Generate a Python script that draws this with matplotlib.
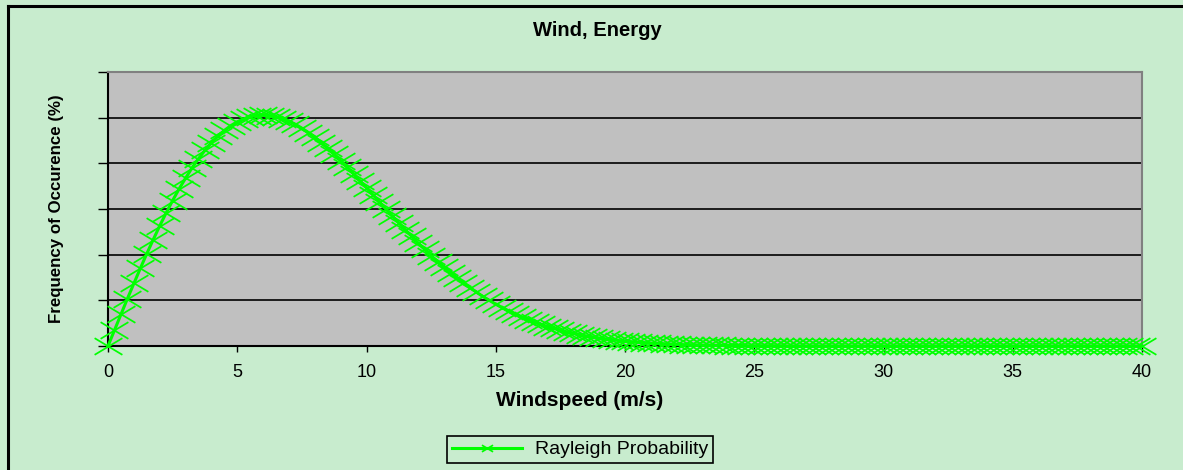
import numpy as np
import matplotlib.pyplot as plt
from matplotlib.lines import Line2D
from matplotlib.path import Path

# windspeed grid (m/s), one point every 0.25
speeds = np.arange(0, 40.25, 0.25)

# frequency of occurence (%)
freq = [
    0.00, 0.69, 1.38, 2.07, 2.74, 3.40, 4.04, 4.66,
    5.26, 5.83, 6.37, 6.88, 7.35, 7.80, 8.20, 8.57,
    8.90, 9.19, 9.44, 9.65, 9.82, 9.95, 10.04, 10.09,
    10.11, 10.09, 10.04, 9.96, 9.85, 9.71, 9.54, 9.35,
    9.14, 8.90, 8.66, 8.39, 8.12, 7.83, 7.53, 7.23,
    6.93, 6.62, 6.31, 6.00, 5.69, 5.39, 5.09, 4.80,
    4.51, 4.23, 3.96, 3.70, 3.45, 3.21, 2.98, 2.77,
    2.56, 2.36, 2.17, 2.00, 1.83, 1.68, 1.53, 1.40,
    1.27, 1.15, 1.04, 0.95, 0.85, 0.77, 0.69, 0.62,
    0.56, 0.50, 0.44, 0.40, 0.35, 0.31, 0.28, 0.24,
    0.21, 0.19, 0.17, 0.15, 0.13, 0.11, 0.10, 0.09,
    0.07, 0.06, 0.06, 0.05, 0.04, 0.04, 0.03, 0.03,
    0.02, 0.02, 0.02, 0.01, 0.01, 0.01, 0.01, 0.01,
    0.01, 0.00, 0.00, 0.00, 0.00, 0.00, 0.00, 0.00,
    0.00, 0.00, 0.00, 0.00, 0.00, 0.00, 0.00, 0.00,
    0.00, 0.00, 0.00, 0.00, 0.00, 0.00, 0.00, 0.00,
    0.00, 0.00, 0.00, 0.00, 0.00, 0.00, 0.00, 0.00,
    0.00, 0.00, 0.00, 0.00, 0.00, 0.00, 0.00, 0.00,
    0.00, 0.00, 0.00, 0.00, 0.00, 0.00, 0.00, 0.00,
    0.00, 0.00, 0.00, 0.00, 0.00, 0.00, 0.00, 0.00,
    0.00,
]

x_ticks = [0, 5, 10, 15, 20, 25, 30, 35, 40]
y_ticks = [0, 2, 4, 6, 8, 10, 12]

bg = '#c8ecce'
plt.rcParams['font.family'] = ['Liberation Sans', 'DejaVu Sans']

# wide, flat "x" like the excel marker
wide_x = Path([(-1, -0.6), (1, 0.6), (-1, 0.6), (1, -0.6)],
              [Path.MOVETO, Path.LINETO, Path.MOVETO, Path.LINETO])

fig = plt.figure(figsize=(11.83, 4.70), dpi=100, facecolor=bg)
ax = fig.add_axes([108/1183, 1 - 346/470, (1142-108)/1183, (346-72)/470])
ax.set_facecolor('#c0c0c0')

ax.plot(speeds, freq, color='#00ff00', lw=2.2, marker=wide_x, ms=20, mew=1.25,
        clip_on=False, zorder=5, label='Rayleigh Probability')

ax.set_xlim(0, 40)
ax.set_ylim(0, 12)
ax.set_xticks(x_ticks)
ax.set_yticks(y_ticks)
ax.set_yticklabels([])
ax.yaxis.grid(True, color='black', lw=1.2)
ax.set_axisbelow(True)
ax.tick_params(axis='x', length=4, width=1, direction='out', labelsize=13, pad=9)
ax.tick_params(axis='y', length=7, width=1, direction='out')

for s in ['left', 'bottom']:
    ax.spines[s].set_color('black')
    ax.spines[s].set_linewidth(1.5)
for s in ['top', 'right']:
    ax.spines[s].set_color('#808080')
    ax.spines[s].set_linewidth(1.5)

ax.set_xlabel('Windspeed (m/s)', fontsize=15, fontweight='bold', va='center')
ax.xaxis.set_label_coords((580-108)/1034, (346-401)/274)
ax.set_ylabel('Frequency of Occurence (%)', fontsize=12.2, fontweight='bold',
              va='center')
ax.yaxis.set_label_coords((57-108)/1034, 0.5)

fig.text(597/1183, 1 - 30/470, 'Wind, Energy', fontsize=14.5, fontweight='bold',
         ha='center', va='center')

# outer chart frame (top and left edges visible)
fig.add_artist(Line2D([8/1183, 8/1183], [0, 1 - 6/470], color='black', lw=2.2,
                      transform=fig.transFigure))
fig.add_artist(Line2D([8/1183, 1], [1 - 6/470, 1 - 6/470], color='black', lw=2.2,
                      transform=fig.transFigure))

leg = fig.legend(loc='center', bbox_to_anchor=(580/1183, 1 - 449.5/470),
                 fontsize=14, frameon=True, fancybox=False, edgecolor='black',
                 facecolor=bg, framealpha=1, handlelength=3.6, borderpad=0.25,
                 handletextpad=0.7, borderaxespad=0, markerscale=0.4)
leg.get_frame().set_linewidth(1.2)

fig.savefig('out.png', dpi=100, facecolor=bg)
